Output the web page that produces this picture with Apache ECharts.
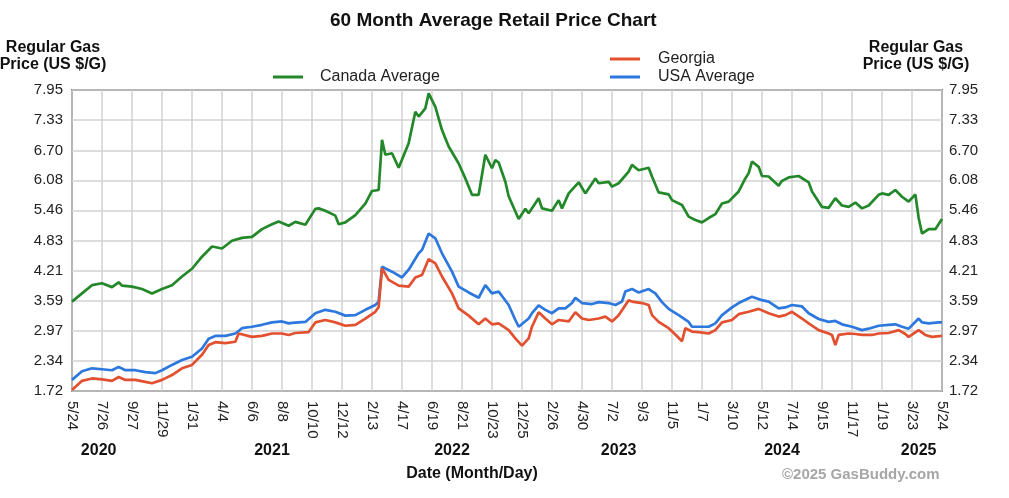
<!DOCTYPE html>
<html>
<head>
<meta charset="utf-8">
<script src="https://cdn.jsdelivr.net/npm/echarts@6/dist/echarts.min.js"></script>
<style>
html,body{margin:0;padding:0;background:#fff;}
#chart{width:1009px;height:498px;}
</style>
</head>
<body>
<div id="chart"></div>
<script>
// x values are week numbers counted from 5/24/2020 (week 0) to 5/24/2025 (week 261)
const xTickLabels = ['5/24','7/26','9/27','11/29','1/31','4/4','6/6','8/8','10/10','12/12','2/13','4/17','6/19','8/21','10/23','12/25','2/26','4/30','7/2','9/3','11/5','1/7','3/10','5/12','7/14','9/15','11/17','1/19','3/23','5/24'];
const yearLabels = ['2020','2021','2022','2023','2024','2025'];
const yearLabelWeeks = [8, 60, 114, 164, 213, 254];
const yTickLabels = ['1.72','2.34','2.97','3.59','4.21','4.83','5.46','6.08','6.70','7.33','7.95'];

const canada = [[0,3.57],[3,3.74],[6,3.91],[9,3.95],[12,3.87],[14,3.97],[15,3.90],[18,3.88],[21,3.83],[24,3.74],[27,3.83],[30,3.91],[33,4.09],[36,4.25],[39,4.50],[42,4.71],[45,4.67],[48,4.83],[51,4.89],[54,4.91],[57,5.07],[60,5.17],[62,5.23],[65,5.14],[67,5.22],[70,5.16],[73,5.49],[74,5.50],[76,5.45],[79,5.35],[80,5.17],[82,5.21],[85,5.36],[88,5.60],[90,5.86],[92,5.88],[93,6.92],[94,6.61],[96,6.64],[98,6.34],[101,6.85],[103,7.50],[104,7.40],[106,7.57],[107,7.88],[109,7.60],[111,7.12],[113,6.78],[116,6.43],[118,6.12],[120,5.78],[122,5.78],[124,6.61],[126,6.33],[127,6.50],[128,6.45],[130,6.05],[131,5.75],[134,5.28],[136,5.49],[137,5.40],[140,5.71],[141,5.50],[144,5.45],[146,5.67],[147,5.50],[149,5.81],[152,6.04],[154,5.81],[157,6.12],[158,6.02],[161,6.05],[162,5.95],[164,6.02],[167,6.26],[168,6.40],[170,6.29],[173,6.34],[174,6.16],[176,5.83],[179,5.79],[180,5.67],[183,5.57],[185,5.33],[187,5.26],[189,5.21],[191,5.30],[193,5.38],[195,5.60],[197,5.64],[200,5.85],[202,6.12],[203,6.23],[204,6.47],[206,6.36],[207,6.17],[209,6.16],[212,5.97],[213,6.07],[215,6.14],[218,6.17],[221,6.04],[222,5.85],[225,5.53],[227,5.51],[229,5.71],[231,5.56],[233,5.53],[235,5.62],[237,5.50],[239,5.56],[242,5.78],[243,5.81],[245,5.78],[247,5.88],[249,5.74],[251,5.64],[253,5.79],[254,5.30],[255,4.98],[257,5.07],[259,5.07],[261,5.28]];

const georgia = [[0,1.74],[3,1.93],[6,1.98],[9,1.96],[12,1.93],[14,2.01],[16,1.95],[19,1.95],[22,1.91],[24,1.88],[27,1.95],[30,2.05],[33,2.19],[36,2.26],[39,2.47],[41,2.67],[43,2.73],[46,2.71],[49,2.74],[50,2.91],[54,2.84],[57,2.86],[60,2.91],[63,2.91],[65,2.88],[67,2.92],[71,2.94],[73,3.14],[76,3.19],[79,3.14],[82,3.07],[85,3.09],[88,3.22],[91,3.36],[92,3.46],[93,4.26],[95,4.02],[98,3.90],[101,3.88],[103,4.07],[105,4.12],[107,4.45],[109,4.36],[111,4.09],[114,3.74],[116,3.43],[119,3.28],[122,3.10],[124,3.22],[126,3.10],[128,3.12],[131,2.98],[133,2.81],[135,2.66],[137,2.81],[138,3.05],[140,3.35],[142,3.22],[144,3.10],[146,3.19],[149,3.16],[151,3.35],[153,3.22],[155,3.19],[158,3.22],[160,3.26],[162,3.16],[164,3.29],[167,3.60],[168,3.57],[171,3.54],[173,3.50],[174,3.29],[176,3.15],[179,3.02],[181,2.89],[183,2.75],[184,3.02],[186,2.95],[188,2.94],[191,2.91],[193,2.98],[195,3.14],[198,3.19],[200,3.31],[203,3.36],[206,3.42],[209,3.33],[212,3.26],[214,3.29],[216,3.36],[219,3.22],[221,3.12],[224,2.98],[227,2.91],[228,2.88],[229,2.67],[230,2.88],[233,2.91],[235,2.90],[237,2.88],[240,2.88],[242,2.91],[245,2.92],[248,2.98],[250,2.90],[251,2.84],[254,2.98],[256,2.88],[258,2.84],[261,2.86]];

const usa = [[0,1.95],[3,2.13],[6,2.19],[9,2.17],[12,2.15],[14,2.22],[16,2.15],[19,2.15],[22,2.11],[25,2.09],[27,2.15],[30,2.26],[33,2.36],[36,2.43],[39,2.60],[41,2.80],[43,2.86],[46,2.86],[49,2.91],[51,3.02],[54,3.05],[57,3.09],[60,3.14],[63,3.16],[65,3.12],[66,3.13],[70,3.15],[73,3.33],[76,3.40],[79,3.36],[82,3.28],[85,3.29],[88,3.40],[91,3.50],[92,3.57],[93,4.29],[96,4.19],[99,4.07],[101,4.23],[104,4.57],[105,4.64],[107,4.98],[109,4.88],[111,4.57],[114,4.19],[116,3.88],[119,3.76],[122,3.65],[124,3.91],[126,3.74],[128,3.78],[131,3.50],[133,3.19],[134,3.05],[137,3.22],[138,3.33],[140,3.49],[142,3.40],[144,3.33],[146,3.43],[148,3.43],[150,3.54],[151,3.65],[153,3.54],[156,3.52],[158,3.56],[161,3.54],[163,3.50],[165,3.57],[166,3.78],[168,3.83],[170,3.76],[173,3.83],[175,3.74],[177,3.56],[179,3.42],[182,3.29],[185,3.15],[186,3.05],[188,3.05],[191,3.05],[193,3.12],[195,3.29],[198,3.45],[200,3.54],[203,3.64],[204,3.67],[207,3.60],[209,3.57],[212,3.43],[214,3.45],[216,3.50],[219,3.47],[221,3.33],[224,3.21],[227,3.15],[229,3.17],[231,3.10],[234,3.05],[237,2.98],[239,3.01],[242,3.07],[245,3.09],[247,3.10],[249,3.05],[251,3.01],[254,3.22],[255,3.14],[257,3.12],[260,3.14],[261,3.14]];

const yTicks = yTickLabels.map(Number);
const FONT = 'Liberation Sans, Arial, sans-serif';
const chart = echarts.init(document.getElementById('chart'), null, {renderer: 'canvas'});

function yFmt(v) {
  let best = 0;
  for (let i = 1; i < yTicks.length; i++) if (Math.abs(yTicks[i] - v) < Math.abs(yTicks[best] - v)) best = i;
  return yTickLabels[best];
}

const yBase = {
  type: 'value', min: yTicks[0], max: yTicks[yTicks.length - 1],
  axisLine: {show: false},
  axisTick: {show: false, customValues: yTicks},
  axisLabel: {customValues: yTicks, formatter: yFmt, color: '#222', fontSize: 15, fontFamily: FONT}
};

chart.setOption({
  animation: false,
  backgroundColor: '#fff',
  title: {
    text: '60 Month Average Retail Price Chart',
    left: 330, top: 11, padding: 0,
    textStyle: {fontSize: 19, fontWeight: 'bold', color: '#111', fontFamily: FONT}
  },
  legend: [
    {
      data: ['Canada Average'], left: 273, top: 68, padding: 0, icon: 'rect', itemWidth: 30, itemHeight: 3,
      textStyle: {fontSize: 16, color: '#222', fontFamily: FONT, padding: [0, 0, 0, 12], lineHeight: 18}
    },
    {
      data: ['Georgia', 'USA Average'], orient: 'vertical', left: 610, top: 50, padding: 0, itemGap: 0,
      icon: 'rect', itemWidth: 30, itemHeight: 3,
      textStyle: {fontSize: 16, color: '#222', fontFamily: FONT, padding: [0, 0, 0, 13], lineHeight: 18}
    }
  ],
  grid: {left: 72, right: 67, top: 90, bottom: 107, show: true, borderColor: '#333', borderWidth: 1.5, backgroundColor: '#fff'},
  xAxis: [
    {
      type: 'value', min: 0, max: 261, interval: 9,
      axisLine: {show: false}, axisTick: {show: false},
      splitLine: {show: true, lineStyle: {color: '#d2d2d2', width: 1.5}},
      axisLabel: {
        rotate: -90, margin: 10, color: '#222', fontSize: 15, fontFamily: FONT,
        showMinLabel: true, showMaxLabel: true,
        formatter: v => xTickLabels[Math.round(v / 9)]
      }
    },
    {
      type: 'value', min: 0, max: 261, position: 'bottom',
      axisLine: {show: false},
      axisTick: {show: false, customValues: yearLabelWeeks},
      splitLine: {show: false},
      axisLabel: {
        customValues: yearLabelWeeks, margin: 52, fontSize: 16, fontWeight: 'bold', color: '#111', fontFamily: FONT,
        formatter: v => yearLabels[yearLabelWeeks.indexOf(Math.round(v))]
      }
    }
  ],
  yAxis: [
    Object.assign({}, yBase, {position: 'left', splitLine: {show: true, lineStyle: {color: '#d2d2d2', width: 1.5}}, axisLabel: Object.assign({}, yBase.axisLabel, {margin: 9})}),
    Object.assign({}, yBase, {position: 'right', splitLine: {show: false}, axisLabel: Object.assign({}, yBase.axisLabel, {margin: 7})})
  ],
  series: [
    {name: 'Canada Average', type: 'line', data: canada, symbol: 'none', color: '#23882a', lineStyle: {width: 2.7, color: '#23882a'}, z: 3},
    {name: 'USA Average', type: 'line', data: usa, symbol: 'none', color: '#2c78de', lineStyle: {width: 2.7, color: '#2c78de'}, z: 4},
    {name: 'Georgia', type: 'line', data: georgia, symbol: 'none', color: '#e2502f', lineStyle: {width: 2.7, color: '#e2502f'}, z: 5}
  ],
  graphic: [
    {type: 'text', style: {x: 53, y: 39, text: 'Regular Gas\nPrice (US $/G)', textAlign: 'center', font: 'bold 16px ' + FONT, fill: '#111', lineHeight: 17}},
    {type: 'text', style: {x: 916, y: 39, text: 'Regular Gas\nPrice (US $/G)', textAlign: 'center', font: 'bold 16px ' + FONT, fill: '#111', lineHeight: 17}},
    {type: 'text', style: {x: 472, y: 466, text: 'Date (Month/Day)', textAlign: 'center', font: 'bold 16px ' + FONT, fill: '#111'}},
    {type: 'text', style: {x: 782, y: 467, text: '\u00a92025 GasBuddy.com', textAlign: 'left', font: 'bold 15px ' + FONT, fill: '#a6a6a6'}}
  ]
});
</script>
</body>
</html>
